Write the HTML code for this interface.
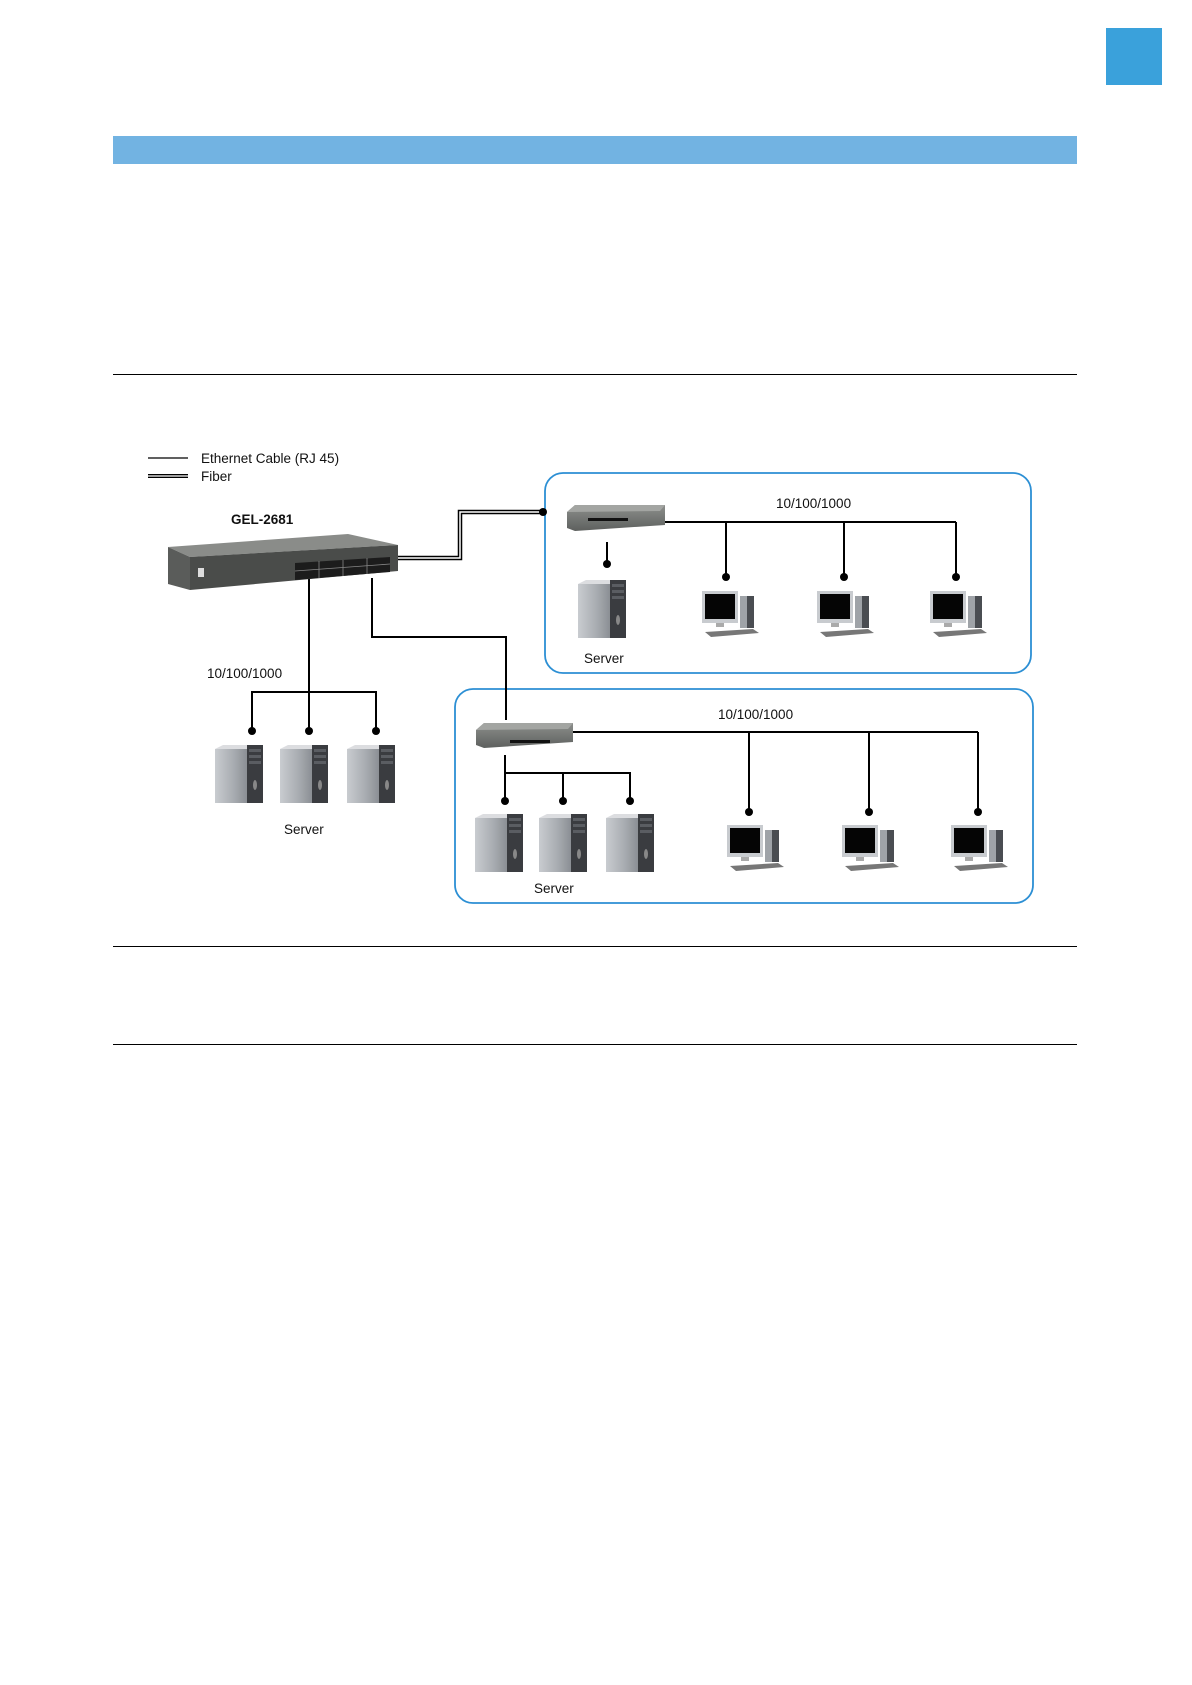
<!DOCTYPE html>
<html><head><meta charset="utf-8"><style>
html,body{margin:0;padding:0;background:#fff;}
body{width:1192px;height:1685px;position:relative;overflow:hidden;font-family:"Liberation Sans",sans-serif;}
</style></head><body>
<svg width="1192" height="1685" viewBox="0 0 1192 1685" xmlns="http://www.w3.org/2000/svg" style="position:absolute;left:0;top:0">
<defs>
<linearGradient id="srv" x1="0" x2="1"><stop offset="0" stop-color="#c9ccd0"/><stop offset="0.6" stop-color="#a7abb0"/><stop offset="1" stop-color="#8b8f94"/></linearGradient>
<linearGradient id="sw" x1="0" y1="0" x2="0" y2="1"><stop offset="0" stop-color="#8d8f8c"/><stop offset="1" stop-color="#5d605e"/></linearGradient>
<g id="server">
<rect x="0" y="4" width="32" height="54" fill="url(#srv)"/>
<polygon points="0,4 8,0 48,0 32,4" fill="#dcdde0"/>
<rect x="32" y="0" width="16" height="58" fill="#3a3c40"/>
<rect x="34" y="4" width="12" height="3" fill="#5a5d62"/>
<rect x="34" y="10" width="12" height="3" fill="#5a5d62"/>
<rect x="34" y="16" width="12" height="3" fill="#5a5d62"/>
<ellipse cx="40" cy="40" rx="2" ry="5" fill="#888"/>
</g>
<g id="pc">
<rect x="5" y="0" width="36" height="32" fill="#c8cbcf"/>
<rect x="8" y="3" width="30" height="25" fill="#050505"/>
<rect x="19" y="32" width="8" height="4" fill="#aaa"/>
<rect x="43" y="5" width="14" height="32" fill="#9fa3a8"/>
<rect x="50" y="5" width="7" height="32" fill="#4a4d52"/>
<polygon points="8,41 56,38 62,42 14,46" fill="#777"/>
</g>
</defs>
<rect x="1106" y="28" width="56" height="57" fill="#3aa1db"/>
<rect x="113" y="136" width="964" height="28" fill="#72b3e2"/>
<line x1="113" y1="374.5" x2="1077" y2="374.5" stroke="#000" stroke-width="1"/>
<line x1="113" y1="946.5" x2="1077" y2="946.5" stroke="#000" stroke-width="1"/>
<line x1="113" y1="1044.5" x2="1077" y2="1044.5" stroke="#000" stroke-width="1"/>

<!-- legend -->
<line x1="148" y1="458" x2="188" y2="458" stroke="#000" stroke-width="1.2"/>
<line x1="148" y1="476" x2="188" y2="476" stroke="#000" stroke-width="4"/>
<line x1="148" y1="476" x2="188" y2="476" stroke="#fff" stroke-width="1.3"/>
<text x="201" y="463" font-size="13.5" fill="#111">Ethernet Cable (RJ 45)</text>
<text x="201" y="481" font-size="13.5" fill="#111">Fiber</text>
<text x="231" y="524" font-size="13.5" font-weight="bold" fill="#111">GEL-2681</text>

<!-- boxes -->
<rect x="545" y="473" width="486" height="200" rx="18" fill="none" stroke="#2c8fd4" stroke-width="1.8"/>
<rect x="455" y="689" width="578" height="214" rx="18" fill="none" stroke="#2c8fd4" stroke-width="1.8"/>

<!-- fiber -->
<polyline points="396,558 460,558 460,512 543,512" fill="none" stroke="#000" stroke-width="4.5"/>
<polyline points="396,558 460,558 460,512 543,512" fill="none" stroke="#fff" stroke-width="1.5"/>
<circle cx="543" cy="512" r="4" fill="#000"/>

<!-- ethernet lines -->
<g stroke="#000" stroke-width="2" fill="none">
<line x1="309" y1="578" x2="309" y2="731"/>
<polyline points="252,731 252,692 376,692 376,731"/>
<polyline points="372,578 372,637 506,637 506,720"/>
<line x1="664" y1="522" x2="956" y2="522"/>
<line x1="726" y1="522" x2="726" y2="577"/>
<line x1="844" y1="522" x2="844" y2="577"/>
<line x1="956" y1="522" x2="956" y2="577"/>
<line x1="607" y1="542" x2="607" y2="564"/>
<line x1="573" y1="732" x2="978" y2="732"/>
<line x1="749" y1="732" x2="749" y2="812"/>
<line x1="869" y1="732" x2="869" y2="812"/>
<line x1="978" y1="732" x2="978" y2="812"/>
<polyline points="505,755 505,801"/>
<polyline points="505,773 630,773 630,801"/>
<line x1="563" y1="773" x2="563" y2="801"/>
</g>
<g fill="#000">
<circle cx="252" cy="731" r="4"/><circle cx="309" cy="731" r="4"/><circle cx="376" cy="731" r="4"/>
<circle cx="726" cy="577" r="4"/><circle cx="844" cy="577" r="4"/><circle cx="956" cy="577" r="4"/>
<circle cx="607" cy="564" r="4"/>
<circle cx="749" cy="812" r="4"/><circle cx="869" cy="812" r="4"/><circle cx="978" cy="812" r="4"/>
<circle cx="505" cy="801" r="4"/><circle cx="563" cy="801" r="4"/><circle cx="630" cy="801" r="4"/>
</g>

<!-- main switch -->
<polygon points="168,547 348,534 398,545 190,557" fill="#8a8c89"/>
<polygon points="168,547 190,557 190,590 168,584" fill="#5a5c5a"/>
<polygon points="190,557 398,545 398,571 190,590" fill="#4a4c4a"/>
<polygon points="295,563 390,557 390,572 295,580" fill="#1c1c1c"/>
<g stroke="#888" stroke-width="0.8">
<line x1="295" y1="571" x2="390" y2="564"/>
<line x1="319" y1="561" x2="319" y2="578"/><line x1="343" y1="560" x2="343" y2="576"/><line x1="367" y1="558" x2="367" y2="574"/>
</g>
<rect x="198" y="568" width="6" height="9" fill="#ddd"/>

<!-- small switches -->
<polygon points="567,512 575,505 665,505 665,525 575,531 567,528" fill="url(#sw)"/>
<polygon points="567,512 575,505 665,505 660,511" fill="#a3a5a2"/>
<rect x="588" y="518" width="40" height="3" fill="#111"/>
<polygon points="476,730 484,723 573,723 573,742 484,748 476,745" fill="url(#sw)"/>
<polygon points="476,730 484,723 573,723 568,729" fill="#a3a5a2"/>
<rect x="510" y="740" width="40" height="3" fill="#111"/>

<!-- servers -->
<use href="#server" x="215" y="745"/>
<use href="#server" x="280" y="745"/>
<use href="#server" x="347" y="745"/>
<use href="#server" x="578" y="580"/>
<use href="#server" x="475" y="814"/>
<use href="#server" x="539" y="814"/>
<use href="#server" x="606" y="814"/>

<!-- pcs -->
<use href="#pc" x="697" y="591"/>
<use href="#pc" x="812" y="591"/>
<use href="#pc" x="925" y="591"/>
<use href="#pc" x="722" y="825"/>
<use href="#pc" x="837" y="825"/>
<use href="#pc" x="946" y="825"/>

<g font-size="13.5" fill="#111">
<text x="207" y="678">10/100/1000</text>
<text x="284" y="834">Server</text>
<text x="776" y="508">10/100/1000</text>
<text x="584" y="663">Server</text>
<text x="718" y="719">10/100/1000</text>
<text x="534" y="893">Server</text>
</g>
</svg>
</body></html>
